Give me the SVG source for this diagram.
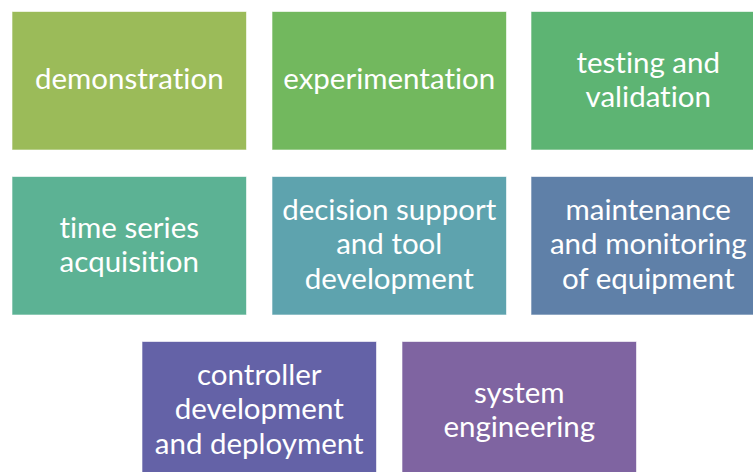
<svg xmlns="http://www.w3.org/2000/svg" width="753" height="472" viewBox="0 0 753 472">
<style>
.box{stroke:#ffffff;stroke-opacity:0.6;stroke-width:1}
.lbl{font-family:Lato,"Open Sans","Liberation Sans",sans-serif;font-size:29.5px;fill:#ffffff;text-anchor:middle;font-variant-ligatures:none;font-feature-settings:"liga" 0}
</style>
<rect width="753" height="472" fill="#ffffff"/>
<g id="node-demonstration">
<rect class="box" x="12" y="11.5" width="234.5" height="138.5" fill="#9BBB59"/>
<text class="lbl" x="129.25" y="89">demonstration</text>
</g>
<g id="node-experimentation">
<rect class="box" x="272" y="11.5" width="234.5" height="138.5" fill="#72B85E"/>
<text class="lbl" x="389.25" y="89">experimentation</text>
</g>
<g id="node-testing">
<rect class="box" x="531" y="11.5" width="234.5" height="138.5" fill="#5DB473"/>
<text class="lbl" x="648.25" y="72.5">testing and</text>
<text class="lbl" x="648.25" y="107">validation</text>
</g>
<g id="node-timeseries">
<rect class="box" x="12" y="176.5" width="234.5" height="138.5" fill="#5CB294"/>
<text class="lbl" x="129.25" y="237.5">time series</text>
<text class="lbl" x="129.25" y="272">acquisition</text>
</g>
<g id="node-decision">
<rect class="box" x="272" y="176.5" width="234.5" height="138.5" fill="#5EA3AE"/>
<text class="lbl" x="389.25" y="219.5">decision support</text>
<text class="lbl" x="389.25" y="254">and tool</text>
<text class="lbl" x="389.25" y="288.5">development</text>
</g>
<g id="node-maintenance">
<rect class="box" x="531" y="176.5" width="234.5" height="138.5" fill="#5F80A8"/>
<text class="lbl" x="648.25" y="219.5">maintenance</text>
<text class="lbl" x="648.25" y="254">and monitoring</text>
<text class="lbl" x="648.25" y="288.5">of equipment</text>
</g>
<g id="node-controller">
<rect class="box" x="142" y="341.5" width="234.5" height="138.5" fill="#6462A7"/>
<text class="lbl" x="259.25" y="384.5">controller</text>
<text class="lbl" x="259.25" y="419">development</text>
<text class="lbl" x="259.25" y="453.5">and deployment</text>
</g>
<g id="node-system">
<rect class="box" x="402" y="341.5" width="234.5" height="138.5" fill="#7F64A1"/>
<text class="lbl" x="519.25" y="402.5">system</text>
<text class="lbl" x="519.25" y="437">engineering</text>
</g>
<g id="connectors"></g>
</svg>
